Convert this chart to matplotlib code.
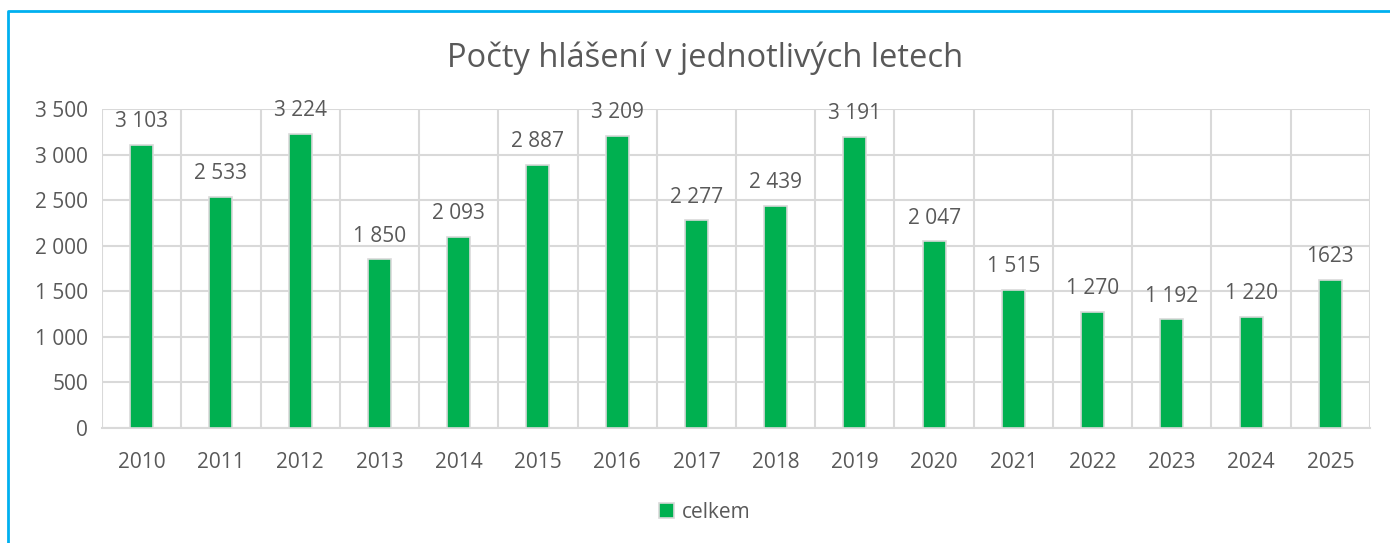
import matplotlib.pyplot as plt
from matplotlib.lines import Line2D
import numpy as np

years = ["2010", "2011", "2012", "2013", "2014", "2015", "2016", "2017",
         "2018", "2019", "2020", "2021", "2022", "2023", "2024", "2025"]
counts = [3103, 2533, 3224, 1850, 2093, 2887, 3209, 2277,
          2439, 3191, 2047, 1515, 1270, 1192, 1220, 1623]
labels = ["3 103", "2 533", "3 224", "1 850", "2 093", "2 887", "3 209", "2 277",
          "2 439", "3 191", "2 047", "1 515", "1 270", "1 192", "1 220", "1623"]
yticks = [0, 500, 1000, 1500, 2000, 2500, 3000, 3500]
ytick_labels = ["0", "500", "1 000", "1 500", "2 000", "2 500", "3 000", "3 500"]

TEXT = "#595959"
GRID = "#D9D9D9"
GREEN = "#00B050"
BLUE = "#00B0F0"

plt.rcParams["font.family"] = ["Open Sans", "DejaVu Sans"]

fig = plt.figure(figsize=(13.9, 5.43), dpi=100)
ax = fig.add_axes([0.0734, 0.2118, 0.9122, 0.5875])

x = np.arange(len(years))
bars = ax.bar(x, counts, width=0.29, color=GREEN, edgecolor=GRID, linewidth=1.2,
              zorder=3, label="celkem")
for xi, v, lab in zip(x, counts, labels):
    ax.text(xi, v + 140, lab, ha="center", va="bottom", fontsize=15, color=TEXT)

ax.set_xlim(-0.5, len(years) - 0.5)
ax.set_ylim(0, 3500)
ax.set_yticks(yticks, ytick_labels)
ax.set_xticks(x, years)
ax.set_xticks(np.arange(-0.5, len(years)), minor=True)
ax.grid(axis="y", color=GRID, lw=1.5, zorder=0)
ax.grid(axis="x", which="minor", color=GRID, lw=1.5, zorder=0)
ax.grid(axis="x", which="major", visible=False)
ax.tick_params(axis="both", which="both", length=0, colors=TEXT, labelsize=15)
ax.tick_params(axis="x", pad=17)
ax.tick_params(axis="y", pad=10)
for side in ["top", "right", "left"]:
    ax.spines[side].set_visible(False)
ax.spines["bottom"].set_color(GRID)
ax.spines["bottom"].set_linewidth(1.5)

fig.text(0.507, 0.892, "Počty hlášení v jednotlivých letech", ha="center", va="center",
         fontsize=23.5, color=TEXT)

fig.legend(handles=[bars], loc="center", bbox_to_anchor=(0.507, 0.057), frameon=False,
           fontsize=15, labelcolor=TEXT, handlelength=0.7, handleheight=0.7, handletextpad=0.4)

# chart area border (left and top edge visible)
fig.add_artist(Line2D([8 / 1390, 8 / 1390, 1.0], [0.0, 1 - 11 / 543, 1 - 11 / 543],
                      transform=fig.transFigure, color=BLUE, lw=2.0))

fig.savefig("out.png", dpi=100)
